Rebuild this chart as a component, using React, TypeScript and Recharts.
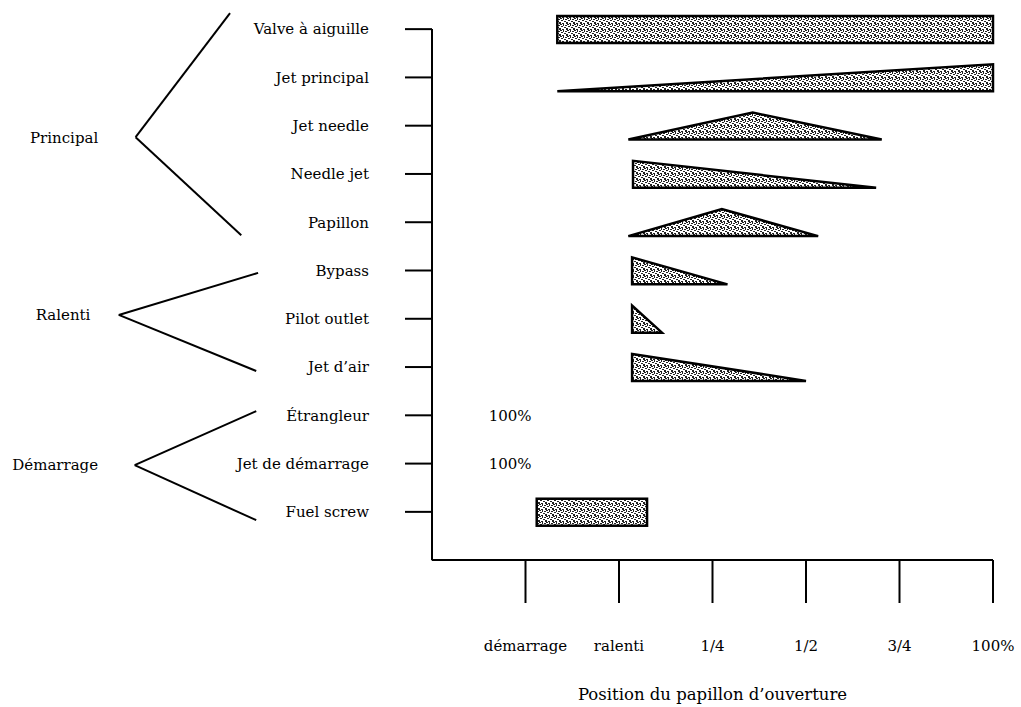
import React from 'react';
import { ComposedChart, Bar, XAxis, YAxis, ReferenceLine, ReferenceDot } from 'recharts';

// circuits du carburateur, de haut en bas
const circuits = [
  'Valve à aiguille',
  'Jet principal',
  'Jet needle',
  'Needle jet',
  'Papillon',
  'Bypass',
  'Pilot outlet',
  'Jet d’air',
  'Étrangleur',
  'Jet de démarrage',
  'Fuel screw',
];

// position du papillon : 1 = démarrage ... 6 = 100%
const debut = [1.34, 1.34, 2.1, 2.15, 2.1, 2.14, 2.14, 2.14, 0.6, 0.6, 1.12];
const fin = [6, 6, 4.81, 4.75, 4.13, 3.16, 2.46, 4.0, 1.07, 1.07, 2.3];
const sommet = [0, 0, 3.43, 0, 3.1, 0, 0, 0, 0, 0, 0];
const forme = ['rect', 'montee', 'pic', 'descente', 'pic', 'descente', 'descente', 'descente', 'texte', 'texte', 'rect'];
const notes = ['', '', '', '', '', '', '', '', '100%', '100%', ''];

const xTicks = [1, 2, 3, 4, 5, 6];
const xLabels = ['démarrage', 'ralenti', '1/4', '1/2', '3/4', '100%'];

// accolades à gauche : sommet et deux extrémités (x, rang)
const groupes = ['Principal', 'Ralenti', 'Démarrage'];
const groupeTexteX = [-4.31, -4.25, -4.5];
const groupeSommetX = [-3.17, -3.35, -3.18];
const groupeSommetY = [2.24, 5.92, 9.03];
const groupeHautX = [-2.16, -1.86, -1.88];
const groupeHautY = [-0.33, 5.05, 7.91];
const groupeBasX = [-2.04, -1.88, -1.88];
const groupeBasY = [4.27, 7.08, 10.17];

const data = circuits.map((name, i) => ({
  name,
  rang: i,
  plage: [debut[i], fin[i]],
  forme: forme[i],
  sommet: sommet[i],
  debut: debut[i],
  fin: fin[i],
  note: notes[i],
}));

const FONT = '"DejaVu Serif", "Liberation Serif", serif';

const Forme = (props: any) => {
  const { x, y, width, height, payload } = props;
  const bas = y + height;
  const droite = x + width;
  const common = { fill: 'url(#grain)', stroke: '#000', strokeWidth: 2.5, strokeLinejoin: 'miter' as const };
  if (payload.forme === 'rect') {
    return <rect x={x} y={y} width={width} height={height} {...common} />;
  }
  if (payload.forme === 'montee') {
    return <polygon points={`${x},${bas} ${droite},${y} ${droite},${bas}`} {...common} />;
  }
  if (payload.forme === 'descente') {
    return <polygon points={`${x},${y} ${x},${bas} ${droite},${bas}`} {...common} />;
  }
  if (payload.forme === 'pic') {
    const f = (payload.sommet - payload.debut) / (payload.fin - payload.debut);
    return <polygon points={`${x},${bas} ${x + width * f},${y} ${droite},${bas}`} {...common} />;
  }
  return (
    <text x={x + width / 2} y={y + height / 2} textAnchor="middle" dominantBaseline="central" fontFamily={FONT} fontSize={15} fill="#000">
      {payload.note}
    </text>
  );
};

export default function App() {
  return (
    <div style={{ position: 'absolute', left: 0, top: 0, background: '#fff' }}>
      <ComposedChart
        width={1021}
        height={707}
        data={data}
        layout="vertical"
        margin={{ top: 5, right: 28, bottom: 0, left: 0 }}
      >
        <defs>
          <pattern id="grain" width="7" height="6" patternUnits="userSpaceOnUse">
            <rect width="7" height="6" fill="#fff" />
            <rect x="0" y="0" width="2" height="1" fill="#222" />
            <rect x="3" y="0" width="1" height="2" fill="#222" />
            <rect x="5" y="1" width="2" height="1" fill="#222" />
            <rect x="1" y="2" width="2" height="1" fill="#222" />
            <rect x="4" y="3" width="2" height="1" fill="#222" />
            <rect x="0" y="4" width="1" height="2" fill="#222" />
            <rect x="2" y="5" width="2" height="1" fill="#222" />
            <rect x="6" y="4" width="1" height="2" fill="#222" />
          </pattern>
        </defs>
        <XAxis
          type="number"
          domain={[0, 6]}
          ticks={xTicks}
          tickFormatter={(v: number) => xLabels[xTicks.indexOf(v)]}
          height={147}
          tickSize={43}
          tickMargin={37}
          axisLine={{ stroke: '#000', strokeWidth: 2 }}
          tickLine={{ stroke: '#000', strokeWidth: 2 }}
          tick={{ fill: '#000', fontSize: 15, fontFamily: FONT }}
          label={{ value: 'Position du papillon d’ouverture', position: 'insideBottom', offset: 7, fill: '#000', fontSize: 16.5, fontFamily: FONT }}
        />
        <YAxis
          type="category"
          dataKey="name"
          width={432}
          padding={{ top: 0, bottom: 24 }}
          tickSize={27}
          tickMargin={36}
          axisLine={false}
          tickLine={{ stroke: '#000', strokeWidth: 2 }}
          tick={{ fill: '#000', fontSize: 15, fontFamily: FONT }}
          interval={0}
        />
        <YAxis
          yAxisId="rang"
          dataKey="rang"
          type="number"
          domain={[0, 10]}
          padding={{ top: 24, bottom: 48 }}
          allowDataOverflow
          hide
        />
        <ReferenceLine
          yAxisId="rang"
          ifOverflow="visible"
          segment={[{ x: 0, y: 0 }, { x: 0, y: 11 }]}
          stroke="#000"
          strokeWidth={2}
        />
        {groupes.map((g, i) => (
          <ReferenceLine
            key={`h-${g}`}
            yAxisId="rang"
            ifOverflow="visible"
            segment={[{ x: groupeHautX[i], y: groupeHautY[i] }, { x: groupeSommetX[i], y: groupeSommetY[i] }]}
            stroke="#000"
            strokeWidth={2}
          />
        ))}
        {groupes.map((g, i) => (
          <ReferenceLine
            key={`b-${g}`}
            yAxisId="rang"
            ifOverflow="visible"
            segment={[{ x: groupeSommetX[i], y: groupeSommetY[i] }, { x: groupeBasX[i], y: groupeBasY[i] }]}
            stroke="#000"
            strokeWidth={2}
          />
        ))}
        {groupes.map((g, i) => (
          <ReferenceDot
            key={`t-${g}`}
            yAxisId="rang"
            x={groupeTexteX[i]}
            y={groupeSommetY[i]}
            r={1}
            fill="none"
            stroke="none"
            ifOverflow="visible"
            label={{ value: g, position: 'right', offset: 0, fill: '#000', fontSize: 15, fontFamily: FONT }}
          />
        ))}
        <Bar dataKey="plage" barSize={27} shape={Forme} isAnimationActive={false} />
      </ComposedChart>
    </div>
  );
}
